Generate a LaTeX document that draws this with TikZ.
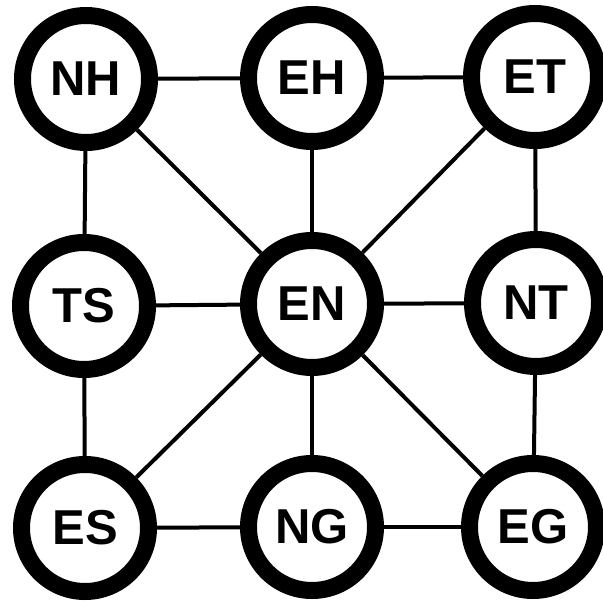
\documentclass[tikz,border=0pt]{standalone}
\usepackage{fontspec}
\setmainfont{Liberation Sans}
\begin{document}
\begin{tikzpicture}[x=1pt,y=-1pt,
  state/.style={circle,draw=black,fill=white,line width=17pt,minimum size=127pt,inner sep=0pt,
    font=\fontsize{49}{49}\selectfont\bfseries},
  link/.style={line width=4pt}]
\useasboundingbox (0,0) rectangle (603,602);
\node[state] (NH) at (86,79) {NH};
\node[state] (EH) at (312,78) {EH};
\node[state] (ET) at (535,77) {ET};
\node[state] (TS) at (84,306) {TS};
\node[state] (EN) at (312,304) {EN};
\node[state] (NT) at (536,303) {NT};
\node[state] (ES) at (85,528) {ES};
\node[state] (NG) at (312,527) {NG};
\node[state] (EG) at (533,527) {EG};
\draw[link] (NH) -- (EH);
\draw[link] (EH) -- (ET);
\draw[link] (NH) -- (TS);
\draw[link] (NH) -- (EN);
\draw[link] (EH) -- (EN);
\draw[link] (ET) -- (EN);
\draw[link] (ET) -- (NT);
\draw[link] (TS) -- (EN);
\draw[link] (EN) -- (NT);
\draw[link] (TS) -- (ES);
\draw[link] (EN) -- (ES);
\draw[link] (EN) -- (NG);
\draw[link] (EN) -- (EG);
\draw[link] (NT) -- (EG);
\draw[link] (ES) -- (NG);
\draw[link] (NG) -- (EG);
\end{tikzpicture}
\end{document}
